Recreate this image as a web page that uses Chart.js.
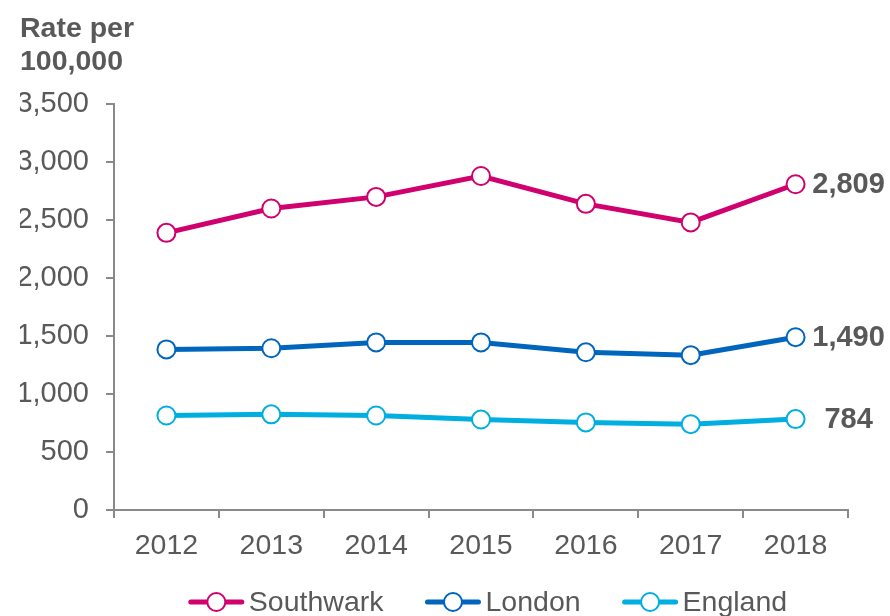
<!DOCTYPE html>
<html>
<head>
<meta charset="utf-8">
<script src="https://cdn.jsdelivr.net/npm/chart.js@4.4.1/dist/chart.umd.min.js"></script>
<style>
  html, body { margin: 0; padding: 0; background: #fff; overflow: hidden; }
  #wrap { width: 890px; height: 616px; }
</style>
</head>
<body>
<div id="wrap"><canvas id="chart" width="890" height="616"></canvas></div>
<script>
const years = ['2012', '2013', '2014', '2015', '2016', '2017', '2018'];
const southwark = [2390, 2600, 2700, 2880, 2640, 2480, 2809];
const london = [1385, 1395, 1445, 1445, 1360, 1335, 1490];
const england = [815, 825, 815, 780, 755, 740, 784];
const seriesNames = ['Southwark', 'London', 'England'];
const seriesColors = ['#d0006f', '#0065bd', '#00aee0'];

const textColor = '#595959';
const axisColor = '#898989';
const fontFamily = 'Arial, "Liberation Sans", sans-serif';

function fmt(v) {
  return Number(v).toLocaleString('en-GB');
}

function makeDataset(label, data, color) {
  return {
    label: label,
    data: data,
    borderColor: color,
    borderWidth: 5,
    pointRadius: 9,
    pointHoverRadius: 9,
    pointBorderWidth: 2,
    pointBackgroundColor: '#ffffff',
    pointBorderColor: color,
    tension: 0
  };
}

// ===== labels at the last point =====
const endLabels = {
  id: 'endLabels',
  afterDatasetsDraw(chart) {
    const ctx = chart.ctx;
    ctx.save();
    ctx.font = 'bold 29px ' + fontFamily;
    ctx.fillStyle = textColor;
    ctx.textAlign = 'center';
    ctx.textBaseline = 'middle';
    chart.data.datasets.forEach((ds, i) => {
      const meta = chart.getDatasetMeta(i);
      const last = meta.data[meta.data.length - 1];
      ctx.fillText(fmt(ds.data[ds.data.length - 1]), last.x + 53, last.y + 1);
    });
    ctx.restore();
  }
};

// ===== legend (line + open circle) =====
const lineLegend = {
  id: 'lineLegend',
  afterDraw(chart) {
    const ctx = chart.ctx;
    const lineW = 55, gap = 5, itemGap = 42;
    const y = 602;
    ctx.save();
    ctx.font = '28.5px ' + fontFamily;
    const widths = chart.data.datasets.map(ds => ctx.measureText(ds.label).width);
    let total = 0;
    widths.forEach((w, i) => {
      total += lineW + gap + w + (i < widths.length - 1 ? itemGap : 0);
    });
    const area = chart.chartArea;
    let x = (area.left + area.right) / 2 + 7 - total / 2;
    chart.data.datasets.forEach((ds, i) => {
      ctx.strokeStyle = ds.borderColor;
      ctx.lineWidth = 5;
      ctx.lineCap = 'round';
      ctx.beginPath();
      ctx.moveTo(x + 2, y);
      ctx.lineTo(x + lineW - 2, y);
      ctx.stroke();

      ctx.beginPath();
      ctx.arc(x + lineW / 2, y, 9, 0, Math.PI * 2);
      ctx.fillStyle = '#ffffff';
      ctx.fill();
      ctx.lineWidth = 2;
      ctx.stroke();

      ctx.fillStyle = textColor;
      ctx.textAlign = 'left';
      ctx.textBaseline = 'middle';
      ctx.fillText(ds.label, x + lineW + gap, y + 1);
      x += lineW + gap + widths[i] + itemGap;
    });
    ctx.restore();
  }
};

new Chart(document.getElementById('chart'), {
  type: 'line',
  data: {
    labels: years,
    datasets: [
      makeDataset(seriesNames[0], southwark, seriesColors[0]),
      makeDataset(seriesNames[1], london, seriesColors[1]),
      makeDataset(seriesNames[2], england, seriesColors[2])
    ]
  },
  options: {
    responsive: false,
    animation: false,
    layout: {
      padding: { top: 0, left: 20, right: 42, bottom: 46 }
    },
    plugins: {
      legend: { display: false },
      tooltip: { enabled: false },
      title: {
        display: true,
        text: ['Rate per', '100,000'],
        align: 'start',
        color: textColor,
        font: { family: fontFamily, size: 28.5, weight: 'bold', lineHeight: 1.16 },
        padding: { top: 13, bottom: 25 }
      }
    },
    scales: {
      x: {
        offset: true,
        grid: {
          offset: true,
          drawOnChartArea: false,
          drawTicks: true,
          tickLength: 8,
          color: axisColor,
          lineWidth: 2
        },
        border: { color: axisColor, width: 2 },
        ticks: {
          color: textColor,
          padding: 11,
          maxRotation: 0,
          font: { family: fontFamily, size: 28.5 }
        },
        afterFit: (scale) => { scale.height = 60; }
      },
      y: {
        min: 0,
        max: 3500,
        grid: {
          drawOnChartArea: false,
          drawTicks: true,
          tickLength: 8,
          color: axisColor,
          lineWidth: 2
        },
        border: { color: axisColor, width: 2 },
        ticks: {
          stepSize: 500,
          color: textColor,
          padding: 17,
          font: { family: fontFamily, size: 29 },
          callback: v => fmt(v)
        },
        afterFit: (scale) => { scale.width = 94; }
      }
    }
  },
  plugins: [endLabels, lineLegend]
});
</script>
</body>
</html>
